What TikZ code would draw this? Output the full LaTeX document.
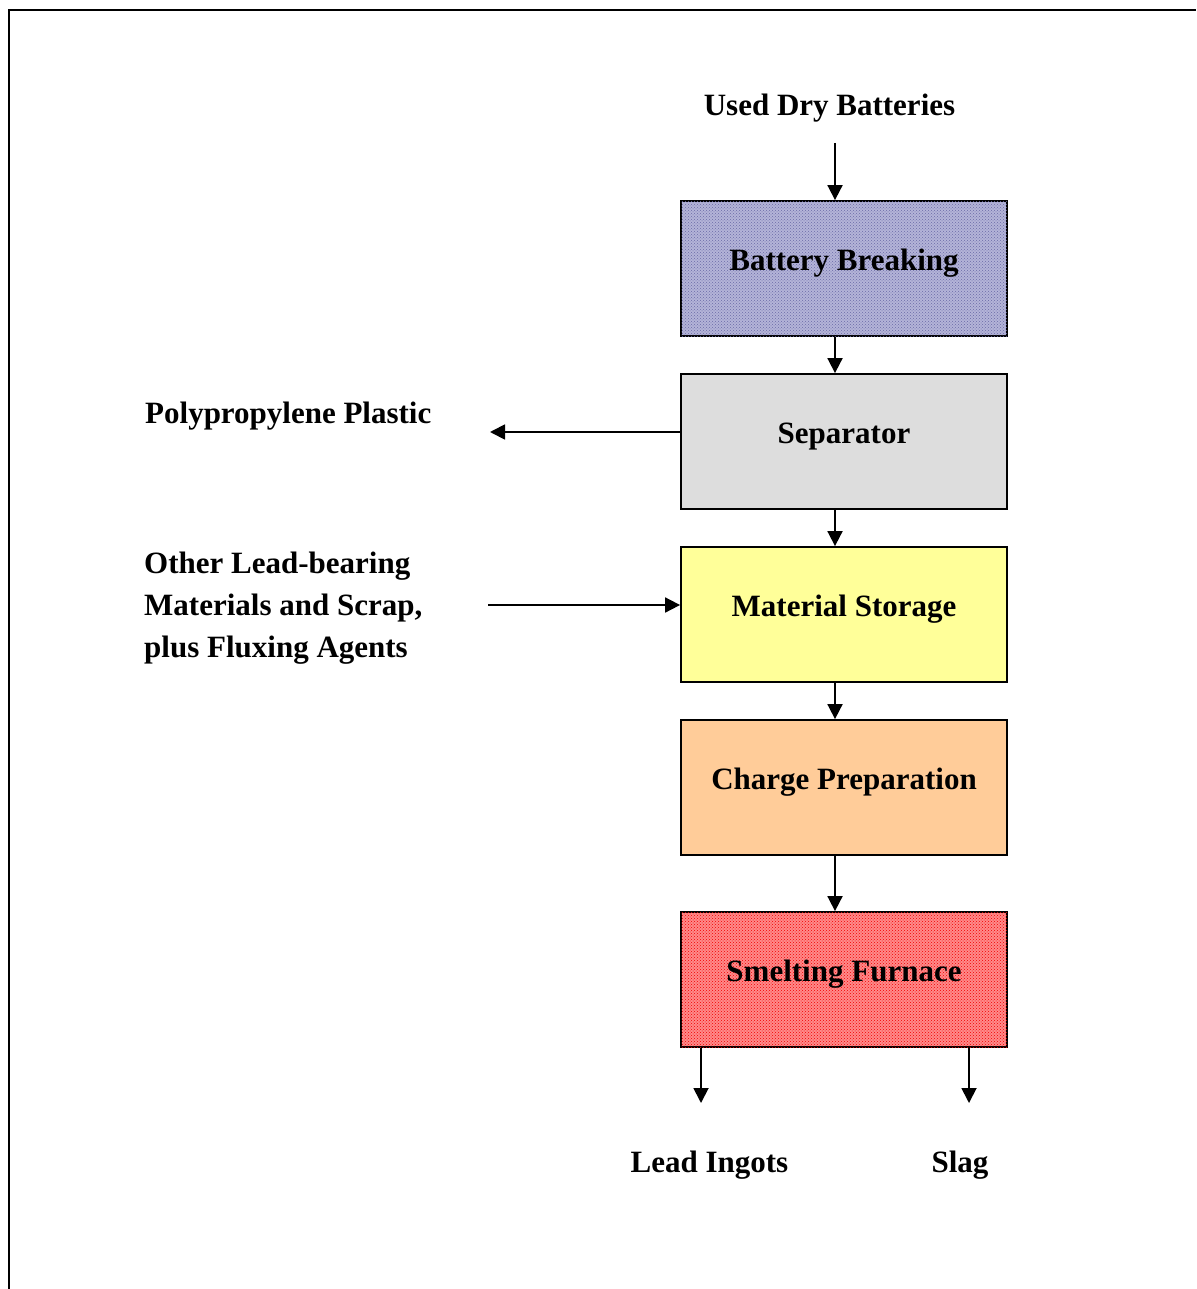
\documentclass[tikz,border=0pt]{standalone}
\usepackage{fontspec}
\setmainfont{Liberation Serif}
\usetikzlibrary{arrows.meta,patterns}
\definecolor{bbfill}{HTML}{B4B4D8}
\definecolor{bbdot}{HTML}{6A6AA6}
\definecolor{sepfill}{HTML}{DDDDDD}
\definecolor{msfill}{HTML}{FFFF99}
\definecolor{cpfill}{HTML}{FFCC99}
\definecolor{sffill}{HTML}{FF8A8A}
\definecolor{sfdot}{HTML}{F00000}
\begin{document}
\begin{tikzpicture}[x=1pt,y=-1pt,
  every node/.style={font=\fontsize{31}{42}\selectfont\bfseries},
  procbox/.style={draw=black, line width=1.8pt, minimum width=326pt, minimum height=135pt,
    inner sep=0pt, text height=14pt, text depth=10pt},
  flow/.style={line width=1.8pt, -{Triangle[length=15pt,width=15pt]}},
  frameline/.style={line width=2.5pt},
  lbl/.style={anchor=base, inner sep=0pt},
  lbll/.style={anchor=base west, inner sep=0pt, align=left}
]
\useasboundingbox (0,0) rectangle (1196,1289);
% frame
\coordinate (fA) at (9,1289);
\coordinate (fB) at (9,10);
\coordinate (fC) at (1196,10);
\draw[frameline] (fA) -- (fB) -- (fC);

% boxes
\node[procbox, fill=bbfill, postaction={pattern=crosshatch dots, pattern color=bbdot}] (bb) at (844,268.5) {Battery Breaking};
\node[procbox, fill=sepfill] (sep) at (844,441.5) {Separator};
\node[procbox, fill=msfill] (ms) at (844,614.5) {Material Storage};
\node[procbox, fill=cpfill] (cp) at (844,787.5) {Charge Preparation};
\node[procbox, fill=sffill, postaction={pattern=crosshatch dots, pattern color=sfdot}] (sf) at (844,979.5) {Smelting Furnace};

% labels
\node[lbl] (udb) at (829.5,116) {Used Dry Batteries};
\node[lbll] (pp) at (145,423) {Polypropylene Plastic};
\node[anchor=base west, inner sep=0pt] (ol1) at (144,573) {Other Lead-bearing};
\node[anchor=base west, inner sep=0pt] (ol2) at (144,615) {Materials and Scrap,};
\node[anchor=base west, inner sep=0pt] (ol3) at (144,657) {plus Fluxing Agents};
\node[lbl] (li) at (709.5,1172) {Lead Ingots};
\node[lbl] (sl) at (960,1172) {Slag};

% connector coordinates
\coordinate (udbEnd) at (835,143);
\coordinate (ppEnd) at (490,432);
\coordinate (olStart) at (488,605);
\coordinate (liEnd) at (701,1103);
\coordinate (slEnd) at (969,1103);

% connectors
\draw[flow] (udbEnd) -- (udbEnd |- bb.north);
\draw[flow] (bb.south -| udbEnd) -- (sep.north -| udbEnd);
\draw[flow] (sep.south -| udbEnd) -- (ms.north -| udbEnd);
\draw[flow] (ms.south -| udbEnd) -- (cp.north -| udbEnd);
\draw[flow] (cp.south -| udbEnd) -- (sf.north -| udbEnd);
\draw[flow] (sep.west |- ppEnd) -- (ppEnd);
\draw[flow] (olStart) -- (olStart -| ms.west);
\draw[flow] (sf.south -| liEnd) -- (liEnd);
\draw[flow] (sf.south -| slEnd) -- (slEnd);
\end{tikzpicture}
\end{document}
